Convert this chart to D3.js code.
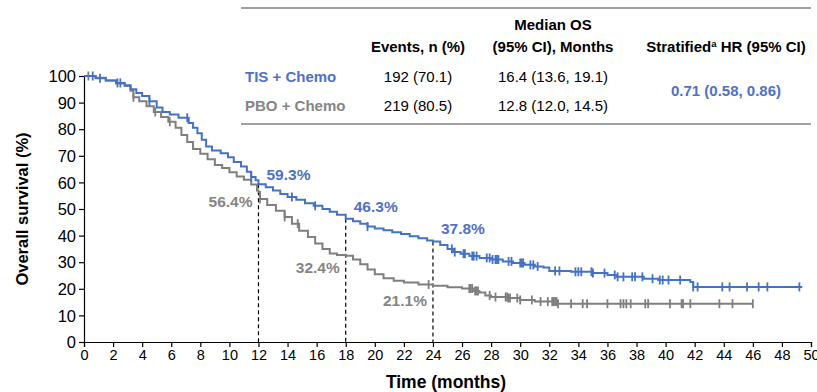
<!DOCTYPE html>
<html><head><meta charset="utf-8">
<script src="https://cdn.jsdelivr.net/npm/d3@7/dist/d3.min.js"></script>
<style>
body{margin:0;background:#fff}
svg{display:block}
text{font-family:"Liberation Sans",Arial,Helvetica,sans-serif}
</style>
</head><body>
<svg id="chart" width="817" height="392"></svg>
<script>
// ---------- DATA ----------
const seriesNames = ["TIS + Chemo", "PBO + Chemo"];
const tisTimes = [0,0.8,1.5,2.2,2.8,3.2,3.6,4.0,4.5,5.0,5.4,5.9,6.5,7.2,7.5,7.8,8.1,8.4,8.8,9.4,9.9,10.3,10.8,11.2,11.5,11.8,12.0,12.5,13.0,13.5,14.0,14.6,15.2,15.8,16.4,16.9,17.4,18.0,18.5,19.0,19.5,20.0,20.6,21.2,21.8,22.4,23.0,23.6,24.0,24.5,25.0,25.4,25.9,26.5,27.2,28.0,28.8,29.5,30.3,31.0,31.6,32.0,33.5,35.0,36.0,36.6,38.5,39.5,41.7,41.9,49.4];
const tisSurv  = [100,99.2,98.3,97.4,96.5,95,93.6,92.5,90.5,88.2,86.5,85.5,84.3,82.3,80.5,78.5,76,73.5,72,71,69.5,67.7,66,64,62,60.8,59.3,58.2,57,55.6,54.5,53.5,52.2,51.2,50,49,47.8,46.3,45.4,44.5,43.4,42.7,42,41.3,40.6,39.8,39,38.2,37.8,36.5,35,33.8,33.2,32.3,31.6,31,30.3,29.7,29,28.4,28,26.7,26.4,25.9,25.2,24.5,23.8,23.3,22.6,20.7,20.7];
const pboTimes = [0,0.8,1.5,2.2,2.8,3.2,3.4,3.8,4.3,4.8,5.3,5.8,6.3,6.7,7.1,7.5,8.0,8.5,9.0,9.5,10.0,10.5,11.0,11.5,11.9,12.0,12.1,12.6,13.2,13.8,14.3,14.8,15.4,15.9,16.4,16.9,17.4,18.0,18.5,19.0,19.5,20.0,20.6,21.3,22.0,23.0,24.0,25.0,26.0,26.8,27.2,27.6,28.0,29.2,30.0,31.0,32.6,46.0];
const pboSurv  = [100,99.3,98.3,97.2,96.2,94.5,92,90.5,88.6,86.5,84.6,82.8,80.5,77.8,75.2,72.6,70.8,68.7,66.5,65.4,63.8,62.2,61,59.2,57,56.4,53.8,51.5,49.3,47,44.5,41.8,39.5,37,35,33.3,32.7,32.4,31,29.2,27.3,25.5,24,23,22.4,21.6,21.1,20.6,20.1,19.2,18.6,17.5,16.9,16.5,15.8,15.2,14.4,14.4];
const tisCensor = [0.6,1.1,2.3,2.5,4.5,7.1,11.5,14.3,15.9,19.5,25.3,25.5,26.1,26.2,26.7,26.8,27.0,27.7,27.9,28.1,28.3,28.4,28.5,29.2,29.4,30.0,30.1,30.2,30.7,30.9,31.2,32.4,32.7,33.8,34.0,34.2,34.9,35.0,35.8,36.5,36.7,37.1,37.7,37.9,38.4,39.1,39.6,39.8,40.2,41.0,41.9,42.2,43.9,44.4,45.6,46.4,47.0,49.2];
const pboCensor = [0.3,3.4,4.9,5.9,12.1,13.8,14.7,23.7,26.5,26.6,26.7,26.9,27.0,27.1,27.9,28.3,29.0,29.1,29.2,29.3,29.8,30.0,30.8,31.4,31.9,32.2,32.3,32.4,32.5,32.6,33.5,34.3,34.6,36.0,36.9,37.1,37.3,37.6,38.6,38.8,40.3,41.1,41.2,41.7,43.7,44.6,46.0];
const xTickValues = d3.range(0, 51, 2);
const yTickValues = d3.range(0, 101, 10);
const landmarkTimes = [12, 18, 24];
const tisLandmark = [59.3, 46.3, 37.8];
const pboLandmark = [56.4, 32.4, 21.1];
const tableHeader1 = ["", "", "Median OS", ""];
const tableHeader2 = ["", "Events, n (%)", "(95% CI), Months", "Stratified"];
const tableEvents = ["192 (70.1)", "219 (80.5)"];
const tableMedian = ["16.4 (13.6, 19.1)", "12.8 (12.0, 14.5)"];
const hrText = "0.71 (0.58, 0.86)";
const xTitle = "Time (months)";
const yTitle = "Overall survival (%)";

// ---------- STYLE ----------
const BLUE = "#4472c4", BLUE_T = "#4f71c6", GRAY = "#7f7f7f", GRAY_T = "#858585";
const TF = "15px";

const svg = d3.select("#chart");
const x = d3.scaleLinear().domain([0, 50]).range([84, 811]);
const y = d3.scaleLinear().domain([0, 100]).range([342, 76]);

// axes
const xAxis = svg.append("g").attr("transform", `translate(0,${y(0)})`)
  .call(d3.axisBottom(x).tickValues(xTickValues).tickSize(5).tickPadding(3).tickFormat(d3.format("d")));
const yAxis = svg.append("g").attr("transform", `translate(${x(0)},0)`)
  .call(d3.axisLeft(y).tickValues(yTickValues).tickSize(5).tickPadding(3).tickFormat(d3.format("d")));
[xAxis, yAxis].forEach(a => {
  a.select(".domain").attr("stroke", "#000").attr("stroke-width", 1.2);
  a.selectAll(".tick line").attr("stroke", "#000").attr("stroke-width", 1.2);
  a.selectAll("text").attr("fill", "#000").style("font-family", '"Liberation Sans",Arial,sans-serif');
});
xAxis.selectAll("text").style("font-size", "14.5px");
yAxis.selectAll("text").style("font-size", "16.5px").attr("dy", "0.35em");

// axis titles
svg.append("text").attr("x", 446).attr("y", 388).attr("text-anchor", "middle")
  .style("font-size", "17.5px").style("font-weight", "bold").text(xTitle);
svg.append("text").attr("transform", `translate(28,${y(50)}) rotate(-90)`).attr("text-anchor", "middle")
  .style("font-size", "16.5px").style("font-weight", "bold").text(yTitle);

// step helper
function stepVal(times, surv, t) {
  let i = d3.bisectRight(times, t) - 1;
  if (i < 0) i = 0;
  return surv[i];
}

// landmark dashed lines
svg.selectAll(".lm").data(landmarkTimes).join("line")
  .attr("x1", d => x(d)).attr("x2", d => x(d))
  .attr("y1", (d, i) => y(tisLandmark[i])).attr("y2", y(0))
  .attr("stroke", "#000").attr("stroke-width", 1.2).attr("stroke-dasharray", "4,3");

// curves
const line = d3.line().x(d => x(d[0])).y(d => y(d[1])).curve(d3.curveStepAfter);
const series = [
  {times: pboTimes, surv: pboSurv, censor: pboCensor, color: GRAY},
  {times: tisTimes, surv: tisSurv, censor: tisCensor, color: BLUE}
];
series.forEach(s => {
  const pts = s.times.map((t, i) => [t, s.surv[i]]);
  svg.append("path").attr("d", line(pts)).attr("fill", "none")
    .attr("stroke", s.color).attr("stroke-width", 2);
  svg.append("g").selectAll("line").data(s.censor).join("line")
    .attr("x1", d => x(d)).attr("x2", d => x(d))
    .attr("y1", d => y(stepVal(s.times, s.surv, d)) - 4.5)
    .attr("y2", d => y(stepVal(s.times, s.surv, d)) + 4.5)
    .attr("stroke", s.color).attr("stroke-width", 1.8);
});

// landmark labels
const blueDy = [-4, -7, -7];
const grayDy = [15, 17, 20];
svg.selectAll(".lbT").data(landmarkTimes).join("text")
  .attr("x", d => x(d) + 8).attr("y", (d, i) => y(tisLandmark[i]) + blueDy[i])
  .attr("fill", BLUE_T).style("font-size", "15.5px").style("font-weight", "bold")
  .text((d, i) => tisLandmark[i].toFixed(1) + "%");
svg.selectAll(".lbP").data(landmarkTimes).join("text")
  .attr("x", d => x(d) - 6).attr("y", (d, i) => y(pboLandmark[i]) + grayDy[i])
  .attr("text-anchor", "end")
  .attr("fill", GRAY_T).style("font-size", "15.5px").style("font-weight", "bold")
  .text((d, i) => pboLandmark[i].toFixed(1) + "%");

// table
const tg = svg.append("g");
tg.append("line").attr("x1", 241).attr("x2", 811).attr("y1", 8).attr("y2", 8).attr("stroke", "#808080").attr("stroke-width", 1.5);
tg.append("line").attr("x1", 241).attr("x2", 811).attr("y1", 124).attr("y2", 124).attr("stroke", "#808080").attr("stroke-width", 1.5);
const colX = [245, 418, 553, 726];
tg.append("text").attr("x", colX[2]).attr("y", 30).attr("text-anchor", "middle")
  .style("font-size", TF).style("font-weight", "bold").text(tableHeader1[2]);
tg.append("text").attr("x", colX[1]).attr("y", 52).attr("text-anchor", "middle")
  .style("font-size", TF).style("font-weight", "bold").text(tableHeader2[1]);
tg.append("text").attr("x", colX[2]).attr("y", 52).attr("text-anchor", "middle")
  .style("font-size", TF).style("font-weight", "bold").text(tableHeader2[2]);
const hrHead = tg.append("text").attr("x", colX[3]).attr("y", 52).attr("text-anchor", "middle")
  .style("font-size", TF).style("font-weight", "bold");
hrHead.append("tspan").text(tableHeader2[3]);
hrHead.append("tspan").attr("dy", -5).style("font-size", "9.5px").text("a");
hrHead.append("tspan").attr("dy", 5).text(" HR (95% CI)");

const rowY = [82, 111];
const rowColors = [BLUE_T, GRAY_T];
seriesNames.forEach((n, i) => {
  tg.append("text").attr("x", colX[0]).attr("y", rowY[i]).attr("fill", rowColors[i])
    .style("font-size", TF).style("font-weight", "bold").text(n);
  tg.append("text").attr("x", colX[1]).attr("y", rowY[i]).attr("text-anchor", "middle")
    .style("font-size", TF).text(tableEvents[i]);
  tg.append("text").attr("x", colX[2]).attr("y", rowY[i]).attr("text-anchor", "middle")
    .style("font-size", TF).text(tableMedian[i]);
});
tg.append("text").attr("x", colX[3]).attr("y", 96).attr("text-anchor", "middle").attr("fill", BLUE_T)
  .style("font-size", TF).style("font-weight", "bold").text(hrText);
</script>
</body></html>
